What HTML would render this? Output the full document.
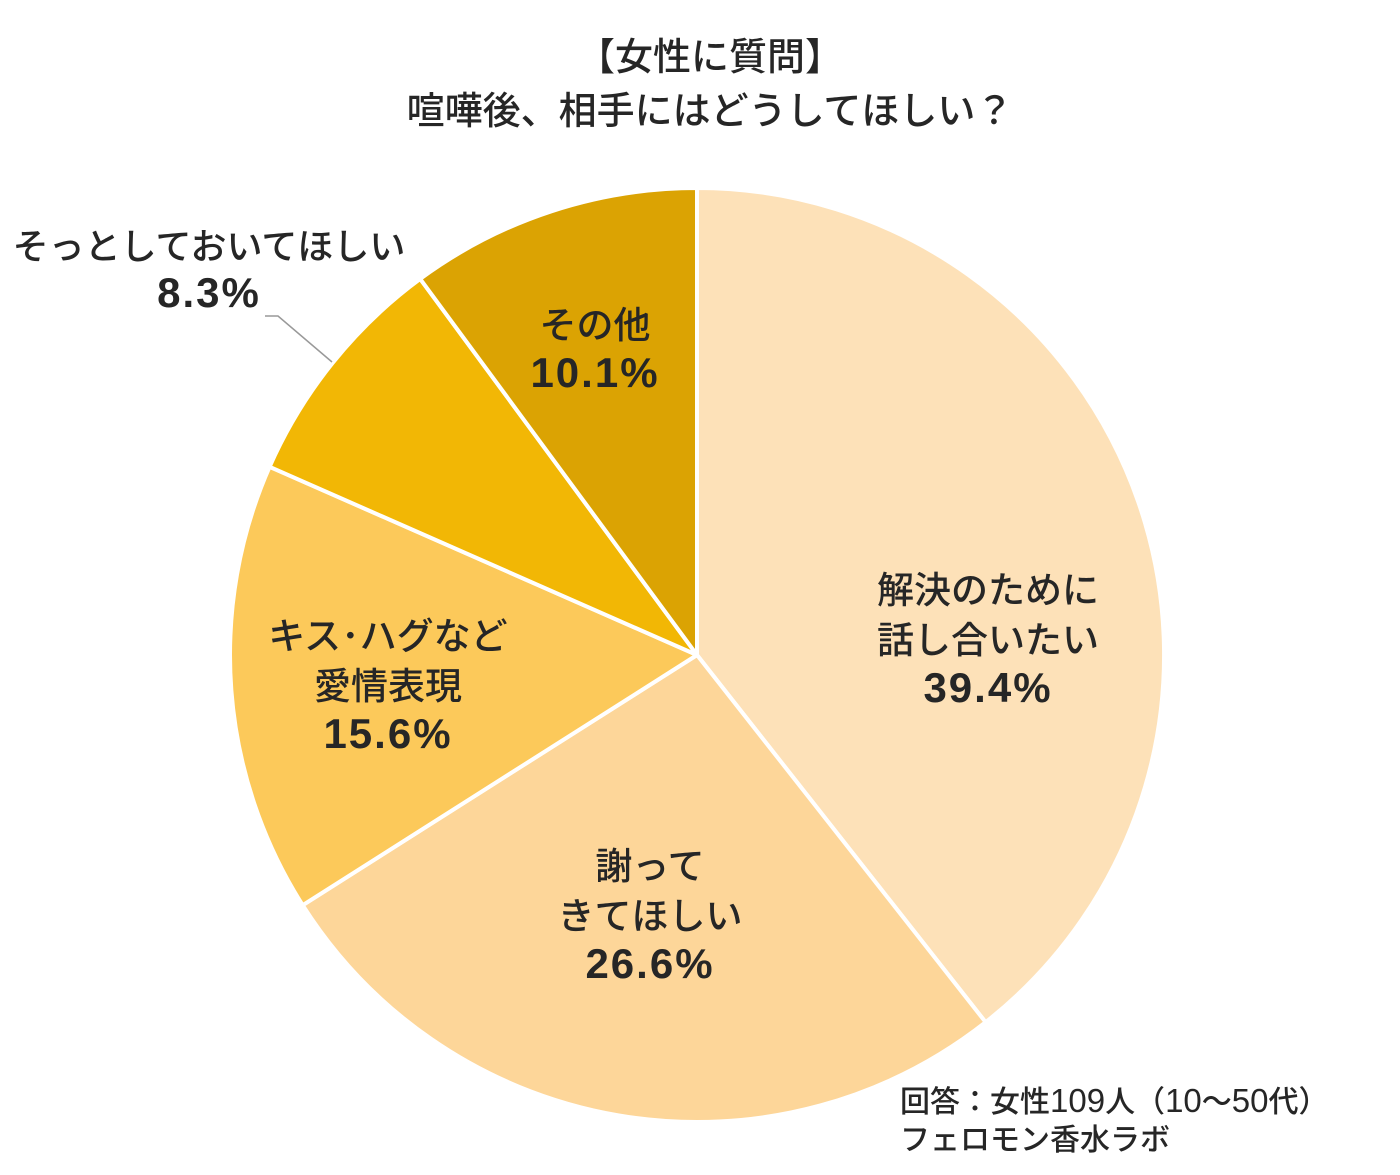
<!DOCTYPE html>
<html><head><meta charset="utf-8"><style>
html,body{margin:0;padding:0;background:#fff;}
svg text{font-family:"Liberation Sans","Noto Sans CJK JP",sans-serif;fill:#262626;font-weight:500;}
.n{font-size:42px;letter-spacing:2px;font-weight:bold;}
</style></head><body>
<svg width="1400" height="1170" viewBox="0 0 1400 1170" xmlns="http://www.w3.org/2000/svg">
<g stroke="#fff" stroke-width="4" stroke-linejoin="round">
<path d="M697 655 L697 188 A467 467 0 0 1 985.6 1022.2 Z" fill="#FDE1B8"/>
<path d="M697 655 L985.6 1022.2 A467 467 0 0 1 302.7 905.2 Z" fill="#FDD699"/>
<path d="M697 655 L302.7 905.2 A467 467 0 0 1 269.6 466.8 Z" fill="#FCC95A"/>
<path d="M697 655 L269.6 466.8 A467 467 0 0 1 420.2 278.9 Z" fill="#F2B705"/>
<path d="M697 655 L420.2 278.9 A467 467 0 0 1 697 188 Z" fill="#DBA303"/>
</g>
<polyline points="265,316 278,316 332,362" fill="none" stroke="#999" stroke-width="1.5"/>
<g text-anchor="middle" font-size="37">
<text x="710" y="70" font-size="38">【女性に質問】</text>
<text x="710" y="124" font-size="38">喧嘩後、相手にはどうしてほしい？</text>
<text x="988" y="603">解決のために</text>
<text x="988" y="653">話し合いたい</text>
<text x="988" y="702" class="n">39.4%</text>
<text x="650" y="879">謝って</text>
<text x="650" y="929">きてほしい</text>
<text x="650" y="978" class="n">26.6%</text>
<text x="388" y="649">キス･ハグなど</text>
<text x="388" y="699">愛情表現</text>
<text x="388" y="748" class="n">15.6%</text>
<text x="595" y="338">その他</text>
<text x="595" y="387" class="n">10.1%</text>
<text x="209" y="259" font-size="36">そっとしておいてほしい</text>
<text x="209" y="307" class="n">8.3%</text>
</g>
<g font-size="30">
<text x="900" y="1112">回答：女性<tspan font-size="33">109</tspan>人（<tspan font-size="33">10</tspan>～<tspan font-size="33">50</tspan>代）</text>
<text x="900" y="1150">フェロモン香水ラボ</text>
</g>
</svg>
</body></html>
